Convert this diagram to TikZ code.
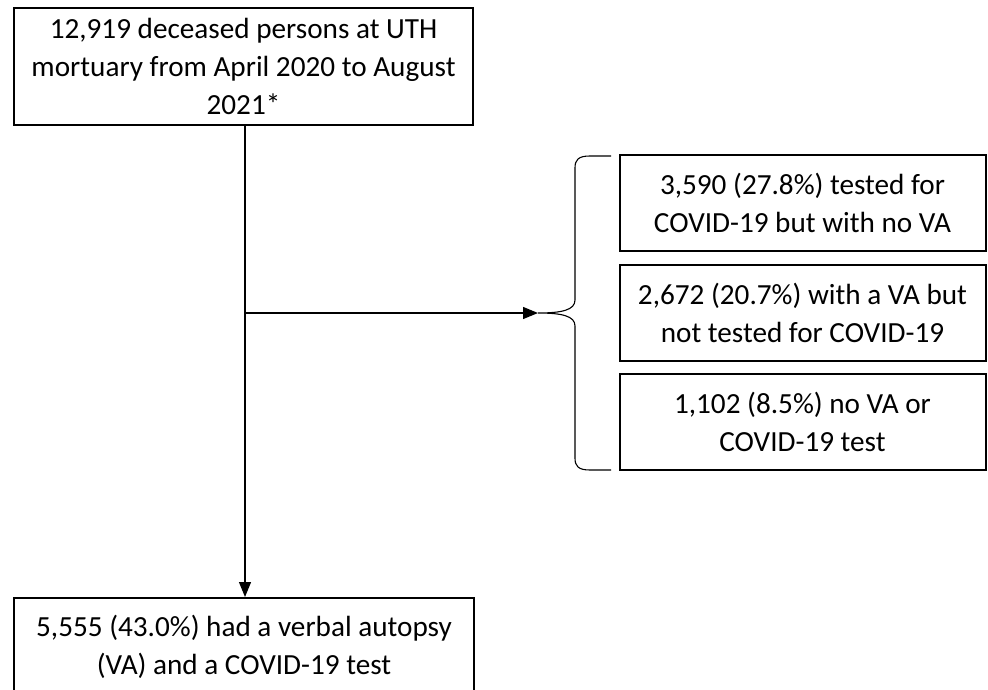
\documentclass[tikz,border=0pt]{standalone}
\usepackage{fontspec}
\setmainfont{Carlito}
\usetikzlibrary{arrows.meta}
\begin{document}
\begin{tikzpicture}[x=1pt,y=-1pt,
  box/.style={draw, line width=2pt, align=center, inner sep=0pt,
    font=\fontsize{29.2}{38}\selectfont},
  conn/.style={line width=1.2pt, -{Triangle[length=15pt,width=12pt]}},
  brc/.style={line width=1.1pt}]
\useasboundingbox (0,0) rectangle (988,690);
\node[box, minimum width=459pt, minimum height=117pt] (top) at (243.5,66.5)
  {12,919 deceased persons at UTH\\mortuary from April 2020 to August\\2021*};
\node[box, minimum width=366pt, minimum height=96pt] (r1) at (802.5,203)
  {3,590 (27.8\%) tested for\\COVID-19 but with no VA};
\node[box, minimum width=366pt, minimum height=96pt] (r2) at (802.5,313)
  {2,672 (20.7\%) with a VA but\\not tested for COVID-19};
\node[box, minimum width=366pt, minimum height=96pt] (r3) at (802.5,422)
  {1,102 (8.5\%) no VA or\\COVID-19 test};
\node[box, minimum width=460pt, minimum height=97pt] (bot) at (244,646.5)
  {5,555 (43.0\%) had a verbal autopsy\\(VA) and a COVID-19 test};
\coordinate (split) at (245,313);
\coordinate (cusp) at (538,313);
\draw[conn] (top.south -| split) -- (bot.north -| split);
\draw[conn] (split) -- (cusp);
\draw[brc] (611,156) -- (590,156) .. controls (578,156) and (575,160) .. (575,168)
  -- (575,300) .. controls (575,310) and (562,313) .. (cusp)
  .. controls (562,313) and (575,316) .. (575,326)
  -- (575,458) .. controls (575,466) and (578,470) .. (590,470) -- (611,470);
\end{tikzpicture}
\end{document}
